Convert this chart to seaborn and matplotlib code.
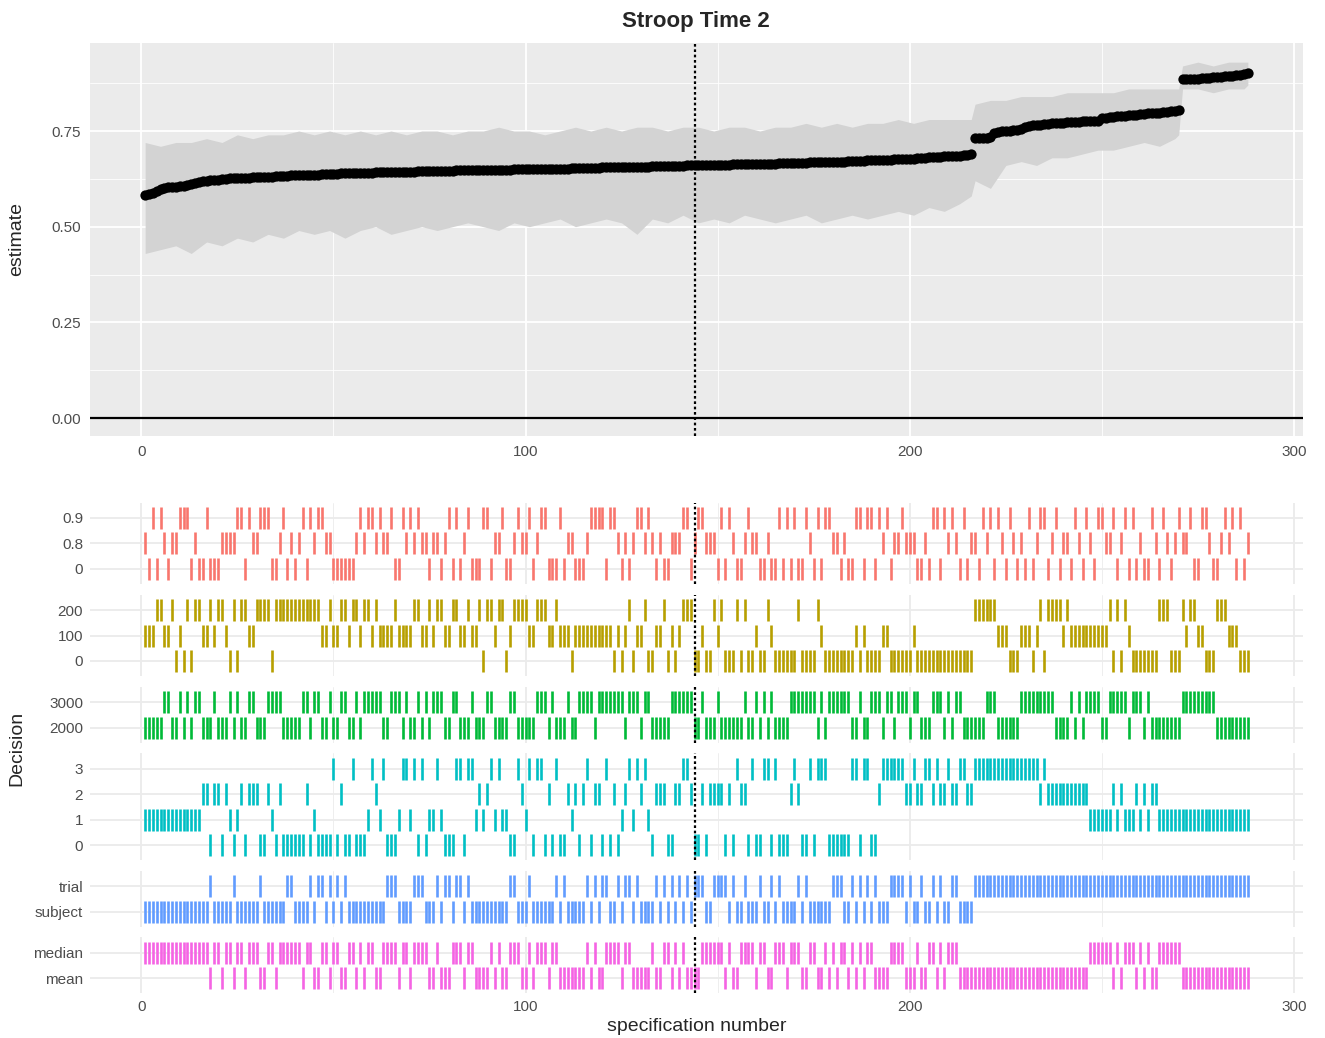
import pandas as pd
import seaborn as sns
import matplotlib.pyplot as plt

# sorted specification estimates, spec 1..288
estimate = [
    0.584, 0.585, 0.587, 0.592, 0.599, 0.601, 0.603, 0.604, 0.605, 0.606, 0.607, 0.609,
    0.611, 0.614, 0.617, 0.619, 0.620, 0.621, 0.622, 0.623, 0.624, 0.625, 0.626, 0.626,
    0.627, 0.627, 0.628, 0.628, 0.629, 0.629, 0.630, 0.630, 0.631, 0.631, 0.632, 0.632,
    0.633, 0.633, 0.634, 0.634, 0.634, 0.635, 0.635, 0.636, 0.636, 0.636, 0.637, 0.637,
    0.637, 0.638, 0.638, 0.639, 0.639, 0.639, 0.640, 0.640, 0.640, 0.641, 0.641, 0.641,
    0.642, 0.642, 0.642, 0.643, 0.643, 0.643, 0.643, 0.644, 0.644, 0.644, 0.644, 0.645,
    0.645, 0.645, 0.645, 0.645, 0.646, 0.646, 0.646, 0.646, 0.646, 0.647, 0.647, 0.647,
    0.647, 0.647, 0.648, 0.648, 0.648, 0.648, 0.648, 0.649, 0.649, 0.649, 0.649, 0.649,
    0.650, 0.650, 0.650, 0.650, 0.650, 0.651, 0.651, 0.651, 0.651, 0.651, 0.652, 0.652,
    0.652, 0.652, 0.652, 0.653, 0.653, 0.653, 0.653, 0.654, 0.654, 0.654, 0.654, 0.655,
    0.655, 0.655, 0.655, 0.656, 0.656, 0.656, 0.656, 0.657, 0.657, 0.657, 0.657, 0.657,
    0.658, 0.658, 0.658, 0.658, 0.659, 0.659, 0.659, 0.659, 0.659, 0.660, 0.660, 0.660,
    0.660, 0.661, 0.661, 0.661, 0.661, 0.662, 0.662, 0.662, 0.662, 0.663, 0.663, 0.663,
    0.663, 0.664, 0.664, 0.664, 0.664, 0.665, 0.665, 0.665, 0.665, 0.666, 0.666, 0.666,
    0.666, 0.667, 0.667, 0.667, 0.667, 0.668, 0.668, 0.668, 0.668, 0.669, 0.669, 0.669,
    0.670, 0.670, 0.670, 0.671, 0.671, 0.671, 0.672, 0.672, 0.673, 0.673, 0.673, 0.674,
    0.674, 0.675, 0.675, 0.676, 0.676, 0.677, 0.677, 0.678, 0.678, 0.679, 0.680, 0.680,
    0.681, 0.682, 0.682, 0.683, 0.684, 0.684, 0.685, 0.686, 0.686, 0.687, 0.688, 0.689,
    0.731, 0.732, 0.733, 0.733, 0.734, 0.746, 0.748, 0.749, 0.750, 0.751, 0.752, 0.753,
    0.755, 0.760, 0.763, 0.765, 0.766, 0.767, 0.768, 0.769, 0.770, 0.771, 0.772, 0.772,
    0.773, 0.773, 0.774, 0.774, 0.775, 0.775, 0.776, 0.776, 0.777, 0.783, 0.785, 0.786,
    0.787, 0.788, 0.789, 0.790, 0.791, 0.792, 0.793, 0.794, 0.795, 0.796, 0.797, 0.798,
    0.798, 0.799, 0.800, 0.801, 0.803, 0.806, 0.885, 0.886, 0.886, 0.887, 0.887, 0.888,
    0.888, 0.889, 0.890, 0.891, 0.892, 0.893, 0.894, 0.895, 0.896, 0.897, 0.899, 0.902,
]

# confidence band, read at a subset of specifications
ci_spec = [1, 5, 9, 13, 17, 21, 25, 29, 33, 37, 41, 45, 49, 53, 57, 61, 65, 69, 73, 77,
           81, 85, 89, 93, 97, 101, 105, 109, 113, 117, 121, 125, 129, 133, 137, 141, 145,
           149, 153, 157, 161, 165, 169, 173, 177, 181, 185, 189, 193, 197, 201, 205, 209,
           213, 216, 217, 221, 225, 229, 233, 237, 241, 245, 249, 253, 257, 261, 265, 269,
           270, 271, 275, 279, 283, 287, 288]
ci_low = [0.43, 0.44, 0.45, 0.43, 0.46, 0.45, 0.47, 0.46, 0.48, 0.47,
          0.49, 0.48, 0.49, 0.47, 0.49, 0.50, 0.48, 0.49, 0.50, 0.49,
          0.50, 0.51, 0.50, 0.49, 0.51, 0.50, 0.51, 0.52, 0.50, 0.51,
          0.52, 0.51, 0.48, 0.52, 0.51, 0.53, 0.51, 0.52, 0.51, 0.53,
          0.52, 0.51, 0.52, 0.53, 0.51, 0.52, 0.53, 0.52, 0.53, 0.54,
          0.53, 0.55, 0.54, 0.56, 0.58,
          0.62, 0.60, 0.66, 0.67, 0.66, 0.68, 0.68, 0.69, 0.70, 0.70,
          0.71, 0.72, 0.71, 0.73, 0.74,
          0.86, 0.86, 0.85, 0.86, 0.86, 0.87]
ci_high = [0.72, 0.71, 0.72, 0.72, 0.73, 0.72, 0.74, 0.73, 0.74, 0.74,
           0.75, 0.74, 0.75, 0.74, 0.75, 0.74, 0.75, 0.74, 0.75, 0.75,
           0.74, 0.75, 0.75, 0.76, 0.75, 0.75, 0.74, 0.75, 0.76, 0.75,
           0.76, 0.75, 0.76, 0.76, 0.75, 0.76, 0.76, 0.75, 0.76, 0.76,
           0.75, 0.76, 0.76, 0.77, 0.76, 0.77, 0.76, 0.77, 0.77, 0.78,
           0.77, 0.78, 0.78, 0.78, 0.78,
           0.82, 0.83, 0.83, 0.84, 0.84, 0.84, 0.85, 0.85, 0.85, 0.85,
           0.86, 0.86, 0.86, 0.86, 0.86,
           0.92, 0.93, 0.92, 0.93, 0.93, 0.93]

median_spec = 144

# decisions: level labels (bottom to top) and the level index used by each spec
trim_levels = ["0", "0.8", "0.9"]
trim_codes = ("1020210112" "2201002000" "1111220211" "2220012010" "1202122110"
              "0000012122" "1211200212" "1211011012" "0201200022" "0112001211"
              "2012200020" "1100012222" "0221010122" "1210100111" "2201221110"
              "2021001211" "0010020202" "0021020221" "1010022022" "0212011211"
              "1001022021" "2102011021" "2021021010" "2012201201" "1021021022"
              "1120120201" "0021021012" "1120022100" "12120201")

low_levels = ["0", "100", "200"]
low_codes = ("1112211201" "0202211212" "2102022112" "2220222222" "2222221121"
             "1221221221" "2111121111" "2211212211" "2211211202" "2122012222"
             "1122211211" "1011111111" "1101012011" "2001120101" "2220010021"
             "2000202001" "0021000000" "2000021000" "0000010100" "0011000000"
             "1000000000" "0000002222" "2211100011" "1012022221" "2111111111"
             "1202021000" "0000222000" "2122110002" "22111000")

high_levels = ["2000", "3000"]
high_codes = ("0000011001" "0101100010" "0010100110" "0011110000" "0110110010"
              "0110010111" "1100111010" "0101011100" "1100010001" "1000011000"
              "0011101000" "1001111011" "1111101110" "1100000111" "1110010001"
              "0000001001" "0101000011" "1111101011" "1111001001" "1101101110"
              "1100011101" "0110000001" "1100000011" "1111111000" "0101011110"
              "0111110111" "0100000000" "1111111110" "00000000")

sd_levels = ["0", "1", "2", "3"]
sd_codes = ("1111111111" "1111122022" "0210120222" "0021020000" "0020100003"
            "0200300013" "2130001331" "3030113100" "0330331212" "3131100321"
            "3033020300" "2120230220" "3020123132" "3102220022" "3320020222"
            "2020322030" "0330300023" "2003033300" "0000330330" "0233333322"
            "3223323223" "2233223333" "3333333333" "3332322222" "2222221111"
            "1121211121" "2122111111" "1111111111" "11111111")

level_levels = ["subject", "trial"]
level_codes = ("0000000000" "0000000100" "0001000000" "1000000110" "0001011010"
               "1010000000" "0001110000" "1110001011" "0110100000" "0000011000"
               "1000000101" "0000010101" "1001011010" "0001010101" "0101110011"
               "1101001000" "1001010000" "1010000001" "1100101010" "1000111101"
               "0010010100" "1100001111" "1111111111" "1111111111" "1111111111"
               "1111111111" "1111111111" "1111111111" "11111111")

stat_levels = ["mean", "median"]
stat_codes = ("1111111111" "1111111011" "0110110111" "0011011111" "1011001101"
              "1001101011" "0011110110" "1111001000" "1110110000" "1010011100"
              "1011101100" "0000010100" "1111011000" "0010011010" "1000011111"
              "1010011110" "1100111011" "1001100101" "0110101011" "0000111100"
              "0100110101" "1100000000" "0000000000" "0000000000" "0000001111"
              "1101011101" "0100111111" "0000000000" "00000000")

decisions = [
    ("trim", trim_levels, trim_codes, "#F8766D"),
    ("low", low_levels, low_codes, "#B79F00"),
    ("high", high_levels, high_codes, "#00BA38"),
    ("sd", sd_levels, sd_codes, "#00BFC4"),
    ("level", level_levels, level_codes, "#619CFF"),
    ("stat", stat_levels, stat_codes, "#F564E3"),
]

specs = list(range(1, len(estimate) + 1))
est_df = pd.DataFrame({"spec": specs, "estimate": estimate})

rows = []
for name, levels, codes, color in decisions:
    for i, c in enumerate(codes):
        rows.append({"decision": name, "spec": i + 1, "level": int(c)})
dec_df = pd.DataFrame(rows)

sns.set_style("white")
plt.rcParams["font.family"] = ["Liberation Sans", "DejaVu Sans"]

W, H = 1325, 1038
fig = plt.figure(figsize=(W / 100, H / 100), dpi=100)


def px_axes(left, top, right, bottom):
    return fig.add_axes([left / W, 1 - bottom / H, (right - left) / W, (bottom - top) / H])


xlim = (-13.35, 302.35)
tick_col = "#4D4D4D"

# ---- top panel: estimates ----
ax = px_axes(90, 43, 1303, 436)
ax.set_facecolor("#EBEBEB")
ax.fill_between(ci_spec, ci_low, ci_high, color="#D3D3D3", lw=0, zorder=2)
ax.axhline(0, color="black", lw=1.6, zorder=3)
ax.axvline(median_spec, color="black", lw=1.6, ls=(0, (1.2, 1.2)), zorder=3)
sns.scatterplot(data=est_df, x="spec", y="estimate", color="black", s=55,
                linewidth=0, ax=ax, zorder=4, legend=False)
ax.set_xlim(xlim)
ax.set_ylim(-0.047, 0.98)
ax.set_xticks([0, 100, 200, 300])
ax.set_xticks([50, 150, 250], minor=True)
ax.set_yticks([0, 0.25, 0.5, 0.75])
ax.set_yticklabels(["0.00", "0.25", "0.50", "0.75"])
ax.set_yticks([0.125, 0.375, 0.625, 0.875], minor=True)
ax.grid(which="major", color="white", lw=1.3, zorder=1)
ax.grid(which="minor", color="white", lw=0.6, zorder=1)
ax.set_axisbelow(True)
for s in ax.spines.values():
    s.set_visible(False)
ax.tick_params(which="major", length=3.5, width=1, color="#333333",
               labelcolor=tick_col, labelsize=11, pad=3)
ax.tick_params(which="minor", length=0)
ax.set_xlabel("")
ax.set_ylabel("")

fig.text(696 / W, 1 - 21 / H, "Stroop Time 2", ha="center", va="center",
         fontsize=16, fontweight="bold")
fig.text(17 / W, 1 - 239 / H, "estimate", ha="center", va="center",
         rotation=90, fontsize=14)

# ---- bottom panels: decisions ----
u, gap = 25.5, 10.4
top = 502.7
for k, (name, levels, codes, color) in enumerate(decisions):
    n = len(levels)
    h = (n - 1 + 1.2) * u
    fax = px_axes(90, top, 1303, top + h)
    top += h + gap
    sub = dec_df[dec_df["decision"] == name]
    sns.scatterplot(data=sub, x="spec", y="level", marker="|", s=265,
                    color=color, linewidth=1.9, ax=fax, legend=False, zorder=3)
    fax.axvline(median_spec, color="black", lw=1.6, ls=(0, (1.2, 1.2)), zorder=4)
    fax.set_xlim(xlim)
    fax.set_ylim(-0.6, n - 1 + 0.6)
    fax.set_yticks(range(n))
    fax.set_yticklabels(levels)
    fax.set_xticks([0, 100, 200, 300])
    fax.set_xticks([50, 150, 250], minor=True)
    fax.grid(which="major", color="#EBEBEB", lw=1.3, zorder=1)
    fax.grid(which="minor", axis="x", color="#EBEBEB", lw=0.6, zorder=1)
    fax.set_axisbelow(True)
    for s in fax.spines.values():
        s.set_visible(False)
    fax.tick_params(which="both", length=0, labelcolor=tick_col, labelsize=11, pad=5)
    fax.set_ylabel("")
    if k < len(decisions) - 1:
        fax.set_xticklabels([])
        fax.set_xlabel("")
    else:
        fax.set_xlabel("specification number", fontsize=14, labelpad=3)

fig.text(17 / W, 1 - 748 / H, "Decision", ha="center", va="center",
         rotation=90, fontsize=14)

fig.savefig("out.png", dpi=100)
